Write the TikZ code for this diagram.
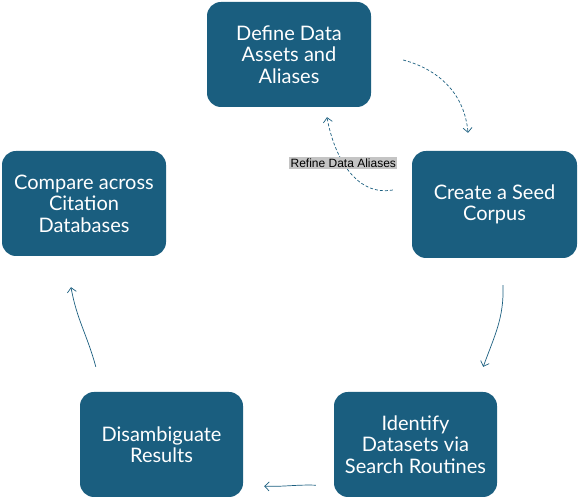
\documentclass[tikz,border=0pt]{standalone}
\usepackage{fontspec}
\setmainfont{Lato}
\newfontfamily\labelfont{Liberation Sans}
\usetikzlibrary{arrows.meta,calc}
\definecolor{teal}{HTML}{1A5E7F}
\definecolor{tagbg}{HTML}{C4C4C4}
\begin{document}
\begin{tikzpicture}[x=1pt,y=1pt,
  stepbox/.style={draw=none,fill=teal,rounded corners=14pt,minimum width=164pt,minimum height=105pt,
    text=white,align=center,font=\fontsize{20}{21.5}\selectfont},
  flow/.style={draw=teal,line width=0.7pt,-{Straight Barb[length=4.5pt,width=9pt]}},
  backflow/.style={flow,dash pattern=on 3pt off 2pt}]
\useasboundingbox (0,0) rectangle (578,500);
\node[stepbox] (define) at (289,445.5) {Define Data\\Assets and\\Aliases};
\node[stepbox,minimum width=165pt,minimum height=107pt] (seed) at (494.5,295.5) {Create a Seed\\Corpus};
\node[stepbox,minimum width=163pt] (identify) at (415.5,55.5) {Identify\\Datasets via\\Search Routines};
\node[stepbox,minimum width=163pt] (disamb) at (161.5,55.5) {Disambiguate\\Results};
\node[stepbox] (compare) at (84,296.5) {Compare across\\Citation\\Databases};
% dashed loop between the first two steps
\draw[backflow] ($(define.east)+(32,-5.5)$) to[out=-15,in=95] ($(seed.north)+(-26.5,18)$);
\draw[backflow] ($(seed.west)+(-19,14.5)$) to[out=190,in=-80]
  node[pos=0.58,fill=tagbg,text=black,inner sep=1.5pt,font=\labelfont\fontsize{12}{13}\selectfont] (refine) {Refine Data Aliases}
  ($(define.south)+(38,-10)$);
% main cycle
\draw[flow] ($(seed.south)+(8.5,-27)$) to[out=-88,in=70] ($(identify.north east)+(-14,25)$);
\draw[flow] ($(identify.south west)+(-18,12)$) to[out=178,in=-2] ($(disamb.south east)+(21,11)$);
\draw[flow] ($(disamb.north west)+(16,25)$) to[out=105,in=-80] ($(compare.south)+(-13,-31)$);
\end{tikzpicture}
\end{document}
